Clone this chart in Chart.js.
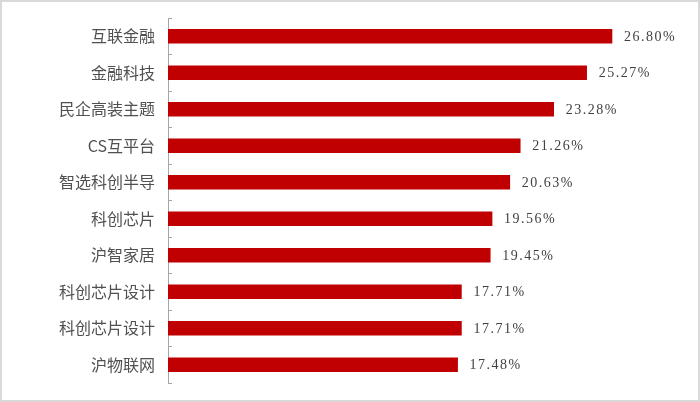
<!DOCTYPE html>
<html>
<head>
<meta charset="utf-8">
<script src="https://cdn.jsdelivr.net/npm/chart.js@4"></script>
<style>
body { margin: 0; background: #fff; }
#box { width: 700px; height: 402px; box-sizing: border-box; border: 2px solid #d9d9d9; background: #fff; }
</style>
</head>
<body>
<div id="box"><canvas id="chart" width="696" height="398"></canvas></div>
<script>
// --- data ---
const categories = ['互联金融', '金融科技', '民企高装主题', 'CS互平台', '智选科创半导', '科创芯片', '沪智家居', '科创芯片设计', '科创芯片设计', '沪物联网'];
const returns = [26.80, 25.27, 23.28, 21.26, 20.63, 19.56, 19.45, 17.71, 17.71, 17.48];

// value labels at the end of each bar
const valueLabels = {
    id: 'valueLabels',
    afterDatasetsDraw(chart) {
        const ctx = chart.ctx;
        const meta = chart.getDatasetMeta(0);
        ctx.save();
        ctx.font = '14px "Liberation Serif", serif';
        ctx.fillStyle = '#404040';
        ctx.letterSpacing = '1.5px';
        ctx.textAlign = 'left';
        ctx.textBaseline = 'middle';
        meta.data.forEach((bar, i) => {
            ctx.fillText(returns[i].toFixed(2) + '%', bar.x + 12, bar.y + 1);
        });
        ctx.restore();
    }
};

const ctx = document.getElementById('chart').getContext('2d');
new Chart(ctx, {
    type: 'bar',
    data: {
        labels: categories,
        datasets: [{
            data: returns,
            backgroundColor: '#c00000',
            borderWidth: 0,
            barThickness: 14
        }]
    },
    options: {
        indexAxis: 'y',
        responsive: false,
        animation: false,
        layout: { padding: { left: 0, right: 33, top: 16, bottom: 17 } },
        plugins: { legend: { display: false }, tooltip: { enabled: false } },
        scales: {
            x: { display: false, min: 0, max: 30 },
            y: {
                afterFit(scale) { scale.width = 166; scale.paddingTop = 0; scale.paddingBottom = 0; },
                border: { display: true, color: '#a6a6a6', width: 1 },
                grid: { drawOnChartArea: false, color: '#a6a6a6', tickLength: -4, offset: true },
                ticks: { color: '#505050', padding: 17, font: { family: '"Noto Sans CJK SC"', size: 16 } }
            }
        }
    },
    plugins: [valueLabels]
});
</script>
</body>
</html>
